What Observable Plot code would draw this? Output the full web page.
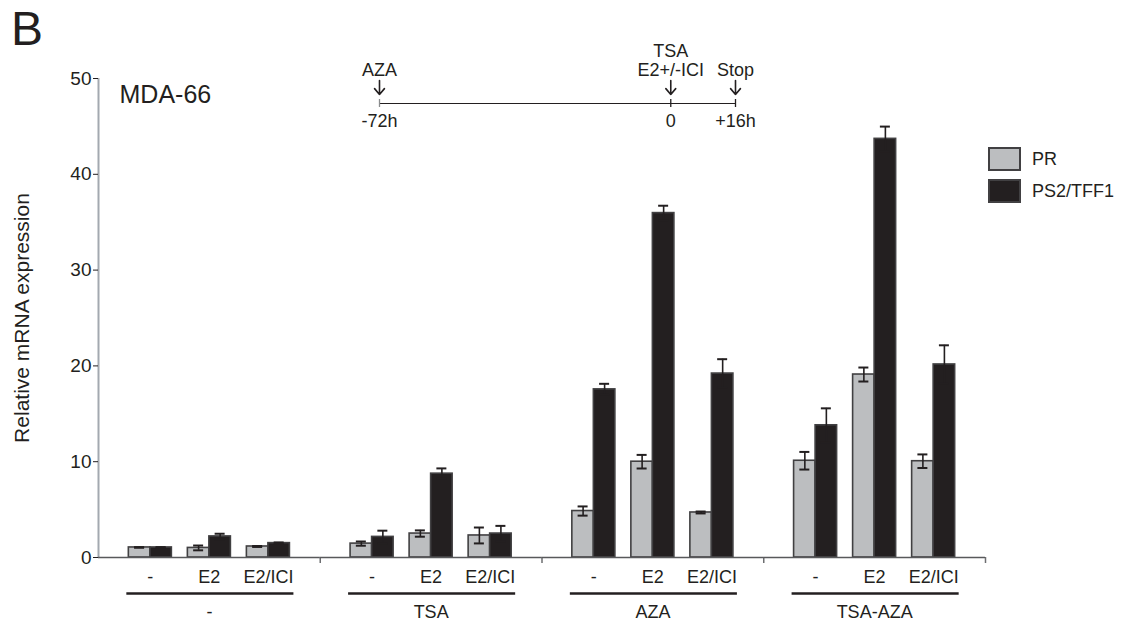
<!DOCTYPE html>
<html>
<head>
<meta charset="utf-8">
<script src="https://cdn.jsdelivr.net/npm/d3@7"></script>
<script src="https://cdn.jsdelivr.net/npm/@observablehq/plot@0.6"></script>
<style>
  html, body { margin: 0; padding: 0; background: #fff; }
  body { width: 1127px; height: 630px; overflow: hidden; font-family: "Liberation Sans", Arial, sans-serif; color: #231f20; }
  #wrap { position: relative; width: 1127px; height: 630px; }
  #wrap > * { position: absolute; left: 0; top: 0; }
  #wrap > #panel { position: absolute; left: 11px; top: 5px; font-size: 48px; line-height: 1; }
  #wrap > #legend { position: absolute; left: 988px; top: 147px; font-size: 18px; }
  .lg-row { display: flex; align-items: center; height: 24px; margin-bottom: 8px; }
  .lg-sw { width: 29px; height: 20px; border: 2px solid #414042; margin-right: 11px; }
</style>
</head>
<body>
<div id="wrap"></div>
<script>
// ---------------- data ----------------
const groups = ["-", "TSA", "AZA", "TSA-AZA"];
const conditions = ["-", "E2", "E2/ICI"];
const seriesNames = ["PR", "PS2/TFF1"];
const seriesColors = ["#bcbec0", "#231f20"];
// per bar, order: group 1 (-, E2, E2/ICI), group 2, ...
const prMean  = [1.05, 1.0, 1.15, 1.45, 2.5, 2.3, 4.85, 10.0, 4.7, 10.1, 19.1, 10.05];
const prErr   = [0.03, 0.25, 0.05, 0.22, 0.33, 0.83, 0.48, 0.71, 0.1, 0.92, 0.73, 0.71];
const ps2Mean = [1.05, 2.2, 1.5, 2.15, 8.75, 2.5, 17.55, 35.95, 19.2, 13.8, 43.7, 20.15];
const ps2Err  = [0.03, 0.28, 0.07, 0.65, 0.55, 0.8, 0.58, 0.77, 1.5, 1.77, 1.28, 2.0];
const yTicks = [0, 10, 20, 30, 40, 50];
const yDomain = [0, 50];
const cellLine = "MDA-66";
const yTitle = "Relative mRNA expression";
// timeline annotation
const tlTimes = [-72, 0, 16];
const tlAbove = ["AZA", "E2+/-ICI", "Stop"];
const tlBelow = ["-72h", "0", "+16h"];
const tlExtra = ["", "TSA", ""];

// ---------------- layout ----------------
const W = 1127, H = 630;
const mL = 98, mR = 142, mT = 78, mB = 73;
const pInner = 0.271, pOuter = 0.514;
const facetW = (W - mL - mR) / groups.length;
const step = facetW / (conditions.length - pInner + 2 * pOuter);
const bw = step * (1 - pInner);
const half = bw / 2;
const edge = half + pOuter * step; // from band centre to facet edge
const dark = "#231f20", outline = "#414042", axisGray = "#a3a9b0";
const font = "'Liberation Sans', Arial, sans-serif";

const rows = [];
groups.forEach((g, gi) => conditions.forEach((c, ci) => {
  const i = gi * conditions.length + ci;
  rows.push({group: g, condition: c, series: seriesNames[0], value: prMean[i], err: prErr[i]});
  rows.push({group: g, condition: c, series: seriesNames[1], value: ps2Mean[i], err: ps2Err[i]});
}));
const pr = rows.filter(d => d.series === seriesNames[0]);
const ps = rows.filter(d => d.series === seriesNames[1]);

function errMarks(data, side) {
  const off = side * half / 2;
  const capL = side < 0 ? half / 2 - 5 : half * 1.5 - 5;
  const capR = side < 0 ? half * 1.5 - 5 : half / 2 - 5;
  return [
    Plot.ruleX(data, {fx: "group", x: "condition", y1: d => d.value - d.err, y2: d => d.value + d.err, dx: off, stroke: dark, strokeWidth: 1.6}),
    Plot.tickY(data, {fx: "group", x: "condition", y: d => d.value + d.err, insetLeft: capL, insetRight: capR, stroke: dark, strokeWidth: 2}),
    Plot.tickY(data, {fx: "group", x: "condition", y: d => d.value - d.err, insetLeft: capL, insetRight: capR, stroke: dark, strokeWidth: 2})
  ];
}

const main = Plot.plot({
  width: W, height: H,
  marginLeft: mL, marginRight: mR, marginTop: mT, marginBottom: mB,
  style: {fontFamily: font, fontSize: "18px", color: dark, background: "transparent", overflow: "visible"},
  fx: {domain: groups, padding: 0, axis: null, round: false},
  x: {domain: conditions, paddingInner: pInner, paddingOuter: pOuter, round: false},
  y: {domain: yDomain},
  marks: [
    // y axis line (left edge of first facet)
    Plot.ruleX([groups[0]], {fx: d => d, x: () => conditions[0], y1: () => yDomain[0], y2: () => yDomain[1], dx: -edge, stroke: axisGray, strokeWidth: 2}),
    Plot.axisY({ticks: yTicks, tickSize: 5, tickPadding: 2, fontSize: 19, label: null, stroke: dark, tickFormat: d => String(d)}),
    // group separator ticks
    Plot.ruleX(groups, {fx: d => d, x: () => conditions[2], y1: () => 0, y2: () => 0, dx: edge, insetBottom: -6, stroke: "#6d6e71", strokeWidth: 1.5}),
    // bars
    Plot.barY(pr, {fx: "group", x: "condition", y: "value", fill: seriesColors[0], stroke: outline, strokeWidth: 1.6, insetRight: half}),
    Plot.barY(ps, {fx: "group", x: "condition", y: "value", fill: seriesColors[1], stroke: outline, strokeWidth: 1.6, insetLeft: half}),
    ...errMarks(pr, -1),
    ...errMarks(ps, 1),
    // baseline
    Plot.ruleY([0], {stroke: "#58595b", strokeWidth: 1.6}),
    Plot.axisX({tickSize: 0, tickPadding: 13, fontSize: 18, label: null}),
    // group underline & labels
    Plot.ruleY(groups, {fx: d => d, y: () => 0, x1: () => conditions[0], x2: () => conditions[2], dy: 36, insetLeft: -2, insetRight: -4, stroke: dark, strokeWidth: 2.6}),
    Plot.text(groups, {fx: d => d, frameAnchor: "bottom", text: d => d, dy: 60, fontSize: 18, fill: dark}),
    // cell line & y title
    Plot.text([cellLine], {fx: () => groups[0], frameAnchor: "top-left", textAnchor: "start", text: d => d, dx: 21, dy: 7, fontSize: 25, fill: dark}),
    Plot.text([yTitle], {fx: () => groups[0], frameAnchor: "left", textAnchor: "middle", text: d => d, rotate: -90, dx: -76, fontSize: 21, fill: dark})
  ]
});

// ---------------- timeline overlay ----------------
const events = tlTimes.map((t, i) => ({t, above: tlAbove[i], below: tlBelow[i], extra: tlExtra[i]}));
const timeline = Plot.plot({
  width: W, height: 140,
  marginLeft: 379, marginRight: W - 735, marginTop: 0, marginBottom: 0,
  style: {fontFamily: font, fontSize: "18px", color: dark, background: "transparent", overflow: "visible"},
  x: {domain: [tlTimes[0], tlTimes[tlTimes.length - 1]], axis: null},
  y: {domain: [0, 1], range: [103, 80], axis: null},
  marks: [
    Plot.ruleY([0], {x1: () => tlTimes[0], x2: () => tlTimes[tlTimes.length - 1], stroke: dark, strokeWidth: 1}),
    Plot.ruleX(events, {x: "t", y1: () => 0, y2: () => 0, insetTop: -4, insetBottom: -4, stroke: d => d.t === tlTimes[0] ? "#8a8c8e" : dark, strokeWidth: 1.3}),
    Plot.arrow(events, {x1: "t", x2: "t", y1: () => 1, y2: () => 0, insetEnd: 9, headLength: 9, headAngle: 80, stroke: dark, strokeWidth: 1.6}),
    Plot.text(events, {x: "t", y: () => 1, dy: -10, text: "above", fill: dark}),
    Plot.text(events, {x: "t", y: () => 0, dy: 18, text: "below", fill: dark}),
    Plot.text(events.filter(d => d.extra), {x: "t", y: () => 1, dy: -29, text: "extra", fill: dark})
  ]
});

const wrap = document.getElementById("wrap");
wrap.appendChild(main);
wrap.appendChild(timeline);

const panel = document.createElement("div");
panel.id = "panel"; panel.textContent = "B";
wrap.appendChild(panel);

const legend = document.createElement("div");
legend.id = "legend";
seriesNames.forEach((name, i) => {
  const row = document.createElement("div"); row.className = "lg-row";
  const sw = document.createElement("div"); sw.className = "lg-sw";
  sw.style.background = seriesColors[i];
  const lb = document.createElement("span"); lb.textContent = name;
  row.appendChild(sw); row.appendChild(lb);
  legend.appendChild(row);
});
wrap.appendChild(legend);
</script>
</body>
</html>
